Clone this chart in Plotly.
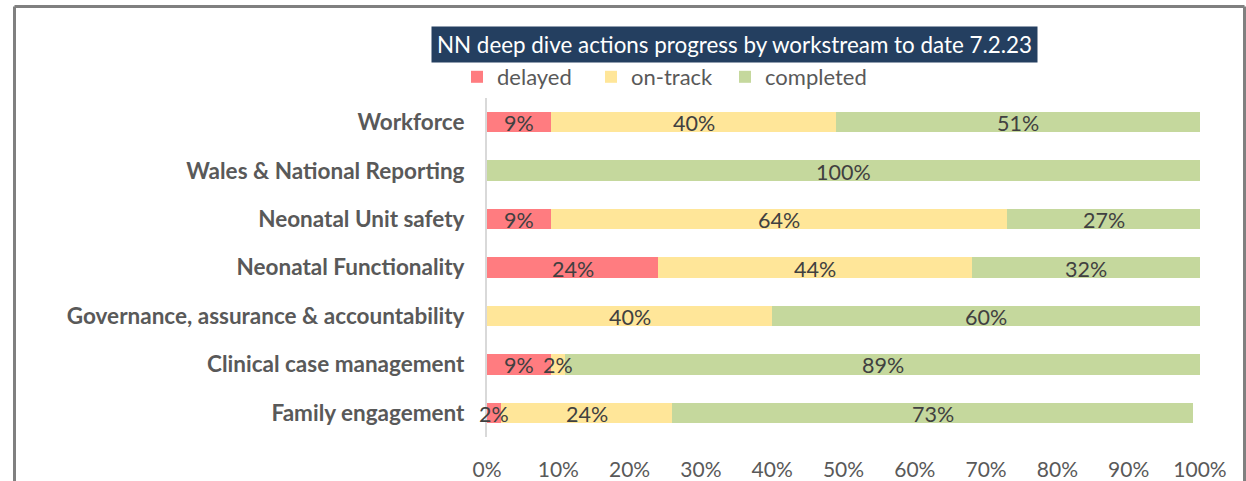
import plotly.graph_objects as go

categories = ["Workforce", "Wales & National Reporting", "Neonatal Unit safety",
              "Neonatal Functionality", "Governance, assurance & accountability",
              "Clinical case management", "Family engagement"]
delayed = [9, 0, 9, 24, 0, 9, 2]
on_track = [40, 0, 64, 44, 40, 2, 24]
completed = [51, 100, 27, 32, 60, 89, 73]
x_ticks = [0, 10, 20, 30, 40, 50, 60, 70, 80, 90, 100]

series = [("delayed", delayed, "#FF7C80"),
          ("on-track", on_track, "#FFE699"),
          ("completed", completed, "#C5D89D")]

FONT = "Lato"
fig = go.Figure()
for name, vals, col in series:
    fig.add_trace(go.Bar(
        y=categories, x=vals, name=name, orientation="h",
        marker=dict(color=col, line=dict(width=0)),
        hoverinfo="x+name",
    ))
# invisible spacer entry so the last legend item is not clipped
fig.add_trace(go.Bar(y=[categories[0]], x=[0], name=" ", orientation="h",
                     marker=dict(color="rgba(0,0,0,0)",
                                 line=dict(width=0, color="rgba(0,0,0,0)")),
                     hoverinfo="skip"))

# data labels centred on each segment, drawn above all bars
for i, cat in enumerate(categories):
    start = 0
    for _, vals, _ in series:
        v = vals[i]
        if v > 0:
            fig.add_annotation(x=start + v / 2, y=cat, xref="x", yref="y",
                               text=f"{v}%", showarrow=False, yshift=-1,
                               font=dict(family=FONT, size=21.5, color="#404040"))
        start += v

L, R, T, B = 487, 46, 98, 44
W, H = 1246, 481
pw, ph = W - L - R, H - T - B

def px(xp):
    return (xp - L) / pw

def py(yp):
    return (H - B - yp) / ph

fig.update_layout(
    width=W, height=H, barmode="stack", bargap=0.58,
    margin=dict(l=L, r=R, t=T, b=B, autoexpand=False),
    paper_bgcolor="white", plot_bgcolor="white",
    font=dict(family=FONT, color="#595959"),
    xaxis=dict(range=[0, 100], tickvals=x_ticks,
               ticktext=[f"{v}%" for v in x_ticks],
               showgrid=False, zeroline=False, showline=False,
               ticks="outside", ticklen=0, ticklabelstandoff=14,
               tickfont=dict(family=FONT, size=21, color="#595959")),
    yaxis=dict(categoryorder="array", categoryarray=categories,
               autorange="reversed", showgrid=False, showline=True,
               linecolor="#D9D9D9", linewidth=2,
               ticks="outside", ticklen=0, ticklabelstandoff=16,
               tickfont=dict(family=FONT, size=22.5, color="#595959", weight="bold")),
    legend=dict(orientation="h", x=px(457), y=py(77), xanchor="left", yanchor="middle",
                font=dict(family=FONT, size=22, color="#595959"),
                entrywidth=89, entrywidthmode="pixels",
                bgcolor="rgba(0,0,0,0)", traceorder="normal"),
    showlegend=True,
)

fig.add_annotation(
    xref="paper", yref="paper", x=px(734.5), y=py(44.5),
    xanchor="center", yanchor="middle", showarrow=False,
    text="NN deep dive actions progress by workstream to date 7.2.23",
    font=dict(family=FONT, size=22.4, color="white"),
    bgcolor="#243F60", width=601, height=31, borderpad=2,
)

border = dict(color="#808080", width=3)
fig.add_shape(type="line", xref="paper", yref="paper", x0=px(14.5), x1=px(14.5),
              y0=py(6.5), y1=py(500), line=border)
fig.add_shape(type="line", xref="paper", yref="paper", x0=px(14.5), x1=px(1244.5),
              y0=py(6.5), y1=py(6.5), line=border)
fig.add_shape(type="line", xref="paper", yref="paper", x0=px(1244.5), x1=px(1244.5),
              y0=py(6.5), y1=py(500), line=border)

fig.write_html("out.html", config={"displayModeBar": False},
               post_script="document.body.style.margin='0';")
